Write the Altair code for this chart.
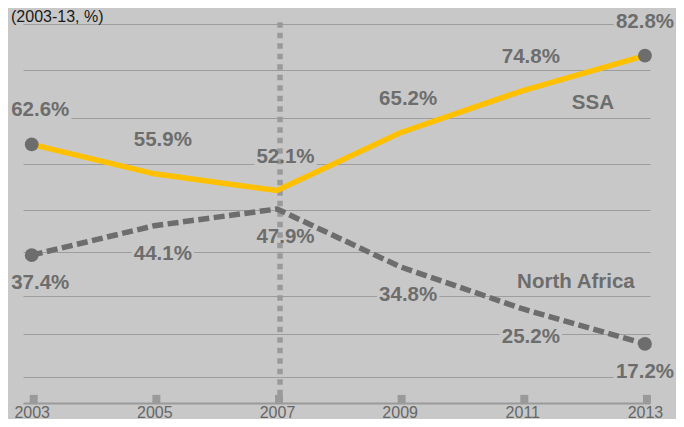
import altair as alt
import pandas as pd

# ---- data ----
years = [2003, 2005, 2007, 2009, 2011, 2013]
ssa = [62.6, 55.9, 52.1, 65.2, 74.8, 82.8]
north_africa = [37.4, 44.1, 47.9, 34.8, 25.2, 17.2]
series_names = ["SSA", "North Africa"]
grid_values = [89.9, 79.5, 68.7, 58.1, 47.6, 38.1, 28.1, 19.45, 9.75]
marker_years = [2003, 2013]
divider_year = [2007]
subtitle = "(2003-13, %)"

rows = []
for yr, a, b in zip(years, ssa, north_africa):
    rows.append({"year": yr, "series": series_names[0], "value": a})
    rows.append({"year": yr, "series": series_names[1], "value": b})
df = pd.DataFrame(rows)
df["label"] = df["value"].map(lambda v: f"{v:.1f}%")

BG = "#c8c8c8"
GRAY = "#6d6d6d"
LIGHT = "#9a9a9a"
YELLOW = "#ffc000"
FONT = "Liberation Sans"
Y_MIN, Y_MAX = 3.75, 90
LAST = years[-1]

x_scale = alt.Scale(domain=[2002.858, 2013.082], nice=False, zero=False)
y_scale = alt.Scale(domain=[Y_MIN, Y_MAX], nice=False, zero=False)

X = alt.X("year:Q", scale=x_scale,
          axis=alt.Axis(values=years, format="d", title=None, grid=False, ticks=False,
                        domain=True, domainColor=LIGHT, domainWidth=2,
                        labelFont=FONT, labelFontSize=16, labelColor="#666666",
                        labelPadding=1, labelFlush=False))
Y = alt.Y("value:Q", scale=y_scale,
          axis=alt.Axis(values=grid_values, grid=True, gridColor="#9d9d9d", gridWidth=1,
                        labels=False, ticks=False, domain=False, title=None))

base = alt.Chart(df)
BOX = "M-1,-0.3L1,-0.3L1,0.3L-1,0.3Z"


def pick(series, last):
    cond = alt.datum.series == series
    return (cond & (alt.datum.year == LAST)) if last else (cond & (alt.datum.year != LAST))


def boxes(series, dy, last):
    return base.transform_filter(pick(series, last)).mark_point(
        shape=BOX, size=3900, filled=True, color=BG, opacity=1, strokeWidth=0,
        xOffset=0 if last else 8.5, yOffset=dy
    ).encode(x=X, y=Y)


def labels(series, dy, last):
    return base.transform_filter(pick(series, last)).mark_text(
        font=FONT, fontSize=20.5, fontWeight="bold", color=GRAY,
        dx=0 if last else 8.5, dy=dy, baseline="middle", align="center"
    ).encode(x=X, y=Y, text="label:N")


divider = alt.Chart(pd.DataFrame({"year": divider_year})).mark_rule(
    color=LIGHT, strokeWidth=5.5, strokeDash=[5.5, 5], xOffset=3
).encode(x=alt.X("year:Q", scale=x_scale), y=alt.datum(90.4), y2=alt.datum(Y_MIN))

tick_squares = alt.Chart(pd.DataFrame({"year": years})).mark_rule(
    color=LIGHT, strokeWidth=8, xOffset=2
).encode(x=alt.X("year:Q", scale=x_scale), y=alt.datum(Y_MIN), y2=alt.datum(5.6))

ssa_line = base.transform_filter(alt.datum.series == "SSA").mark_line(
    color=YELLOW, strokeWidth=5.5
).encode(x=X, y=Y)

na_line = base.transform_filter(alt.datum.series == "North Africa").mark_line(
    color=GRAY, strokeWidth=5.5, strokeDash=[11, 4.5]
).encode(x=X, y=Y)

markers = base.transform_filter(
    alt.FieldOneOfPredicate(field="year", oneOf=marker_years)
).mark_circle(size=190, color=GRAY, opacity=1).encode(x=X, y=Y)

ssa_name = base.transform_filter(
    (alt.datum.series == "SSA") & (alt.datum.year == 2011)
).mark_text(font=FONT, fontSize=20.5, fontWeight="bold", color=GRAY, dx=70.6, dy=12,
            baseline="middle", align="center").encode(x=X, y=Y, text="series:N")

na_name = base.transform_filter(
    (alt.datum.series == "North Africa") & (alt.datum.year == 2011)
).mark_text(font=FONT, fontSize=20.5, fontWeight="bold", color=GRAY, dx=53.6, dy=-26.7,
            baseline="middle", align="center").encode(x=X, y=Y, text="series:N")

sub = alt.Chart(pd.DataFrame({"t": [subtitle]})).mark_text(
    font=FONT, fontSize=16, color="#1a1a1a", align="left", baseline="alphabetic"
).encode(x=alt.value(-12), y=alt.value(-2), text="t:N")

chart = alt.layer(
    boxes("SSA", -34, False), boxes("SSA", -34, True),
    boxes("North Africa", 28, False), boxes("North Africa", 28, True),
    divider, tick_squares, na_line, ssa_line, markers,
    labels("SSA", -34, False), labels("SSA", -34, True),
    labels("North Africa", 28, False), labels("North Africa", 28, True),
    ssa_name, na_name, sub
).properties(
    width=627, height=379,
    padding={"left": 15, "top": 16, "right": 26, "bottom": 16},
    autosize=alt.AutoSizeParams(type="none"),
    background=BG,
).configure_view(stroke=None)

chart.save("out.html", embed_options={"renderer": "svg", "actions": False})
